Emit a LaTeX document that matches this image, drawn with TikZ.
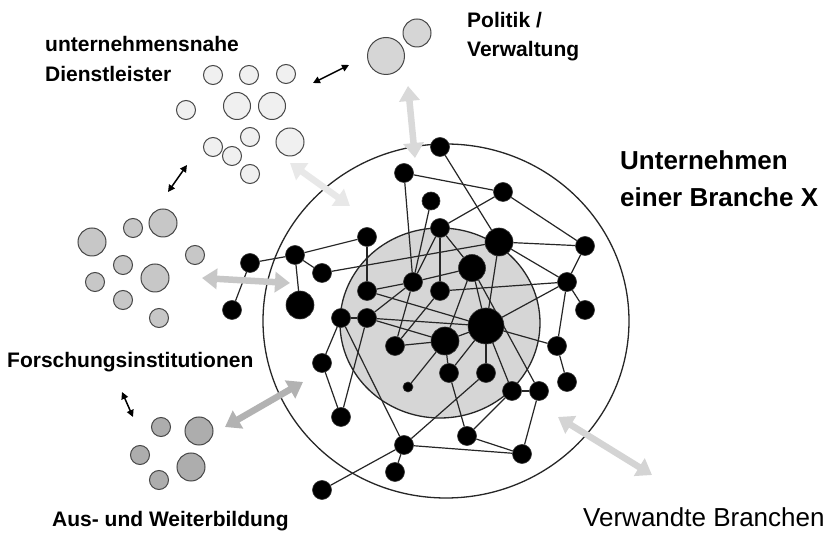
\documentclass[tikz,border=0pt]{standalone}
\usepackage{fontspec}
\setmainfont{Liberation Sans}
\usetikzlibrary{arrows.meta}
\pgfdeclarelayer{back}
\pgfdeclarelayer{links}
\pgfsetlayers{back,links,main}

\begin{document}
\begin{tikzpicture}[x=1pt,y=-1pt,
  hub/.style={circle,fill=black,draw=black!80,line width=0.6pt,inner sep=0pt,minimum size=#1},
  hub/.default=19pt,
  link/.style={draw=black!85,line width=1.2pt},
  member/.style 2 args={circle,draw=black!72,line width=1pt,fill=#1,inner sep=0pt,minimum size=#2},
  flow/.style={line width=6.5pt,draw=#1,
    arrows={Triangle[length=15pt,width=20pt]-Triangle[length=15pt,width=20pt]}},
  tie/.style={line width=1.5pt,draw=black,
    arrows={Triangle[length=7pt,width=7pt]-Triangle[length=7pt,width=7pt]}},
  lbl/.style={font=\fontsize{21}{25}\selectfont\bfseries,inner sep=0pt,anchor=base west},
  biglbl/.style={font=\fontsize{26}{31}\selectfont\bfseries,inner sep=0pt,anchor=base west},
  plainlbl/.style={font=\fontsize{26}{31}\selectfont,inner sep=0pt,anchor=base west}
]
\useasboundingbox (0,0) rectangle (831,534);

% page background, industry boundary and core
\begin{pgfonlayer}{back}
  \fill[white] (0,0) rectangle (831,534);
  \draw[black!85,line width=1.3pt] (446,321) ellipse [x radius=183,y radius=177];
  \draw[black!85,line width=1.3pt,fill=black!16] (440,323) ellipse [x radius=100,y radius=95];
\end{pgfonlayer}

% firms of the industry
\node[hub] (nA) at (440,147) {};
\node[hub] (nB) at (404,173) {};
\node[hub] (nC) at (503,192) {};
\node[hub=18pt] (nD) at (431,201) {};
\node[hub] (nE) at (440,228) {};
\node[hub=28pt] (nF) at (499,242) {};
\node[hub] (nG) at (585,246) {};
\node[hub=27pt] (nH) at (472,268) {};
\node[hub] (nI) at (413,282) {};
\node[hub] (nJ) at (440,291) {};
\node[hub] (nK) at (367,291) {};
\node[hub] (nL) at (367,237) {};
\node[hub] (nM) at (295,255) {};
\node[hub] (nN) at (322,273) {};
\node[hub=28pt] (nO) at (300,305) {};
\node[hub] (nP) at (250,263) {};
\node[hub] (nQ) at (232,310) {};
\node[hub] (nR) at (341,318) {};
\node[hub] (nS) at (367,318) {};
\node[hub=36pt] (nT) at (486,326) {};
\node[hub=28pt] (nU) at (445,341) {};
\node[hub] (nV) at (395,346) {};
\node[hub] (nRa) at (567,282) {};
\node[hub] (nRb) at (585,310) {};
\node[hub] (nRc) at (557,346) {};
\node[hub] (nRd) at (567,382) {};
\node[hub] (nW) at (322,363) {};
\node[hub] (nX) at (341,417) {};
\node[hub] (nY) at (449,373) {};
\node[hub] (nZ) at (486,373) {};
\node[hub=10pt] (nSm) at (408,387) {};
\node[hub] (nAA) at (512,391) {};
\node[hub] (nAB) at (539,391) {};
\node[hub] (nAE) at (467,436) {};
\node[hub] (nAF) at (404,445) {};
\node[hub] (nAG) at (522,454) {};
\node[hub] (nAH) at (395,472) {};
\node[hub] (nAI) at (322,490) {};

% ties between firms
\begin{pgfonlayer}{links}
  \foreach \u/\v in {nA/nF,nB/nC,nB/nI,nD/nI,nE/nC,nE/nJ,nE/nI,nE/nH,nC/nG,nF/nG,
      nF/nRa,nF/nT,nN/nF,nG/nRa,nH/nT,nH/nU,nH/nI,nH/nAB,nRa/nRb,nRa/nRc,nJ/nRa,
      nRa/nT,nRc/nRd,nRc/nT,nAA/nAB,nAB/nAG,nAA/nAE,nY/nAE,nAE/nAG,nAF/nAG,nAF/nZ,
      nAF/nAH,nAF/nAI,nR/nAF,nR/nW,nW/nX,nX/nS,nSm/nU,nV/nU,nK/nI,nK/nL,nL/nM,nM/nP,
      nM/nN,nM/nO,nR/nS,nS/nT,nS/nU,nS/nI,nK/nT,nP/nQ,nT/nU,nT/nY,nT/nZ,nT/nAA,
      nV/nJ,nV/nI,nU/nY}
    \draw[link] (\u) -- (\v);
\end{pgfonlayer}

% business services
\node[member={black!6}{19pt}] (d1) at (213,75) {};
\node[member={black!6}{19pt}] (d2) at (249,75) {};
\node[member={black!6}{19pt}] (d3) at (286,74) {};
\node[member={black!6}{19pt}] (d4) at (186,110) {};
\node[member={black!6}{27pt}] (d5) at (237,106) {};
\node[member={black!6}{27pt}] (d6) at (272,106) {};
\node[member={black!6}{19pt}] (d7) at (250,137) {};
\node[member={black!6}{19pt}] (d8) at (213,147) {};
\node[member={black!6}{19pt}] (d9) at (232,156) {};
\node[member={black!6}{28pt}] (d10) at (290,142) {};
\node[member={black!6}{19pt}] (d11) at (250,174) {};

% politics / administration
\node[member={black!16}{37pt}] (p1) at (386,56) {};
\node[member={black!16}{28pt}] (p2) at (417,33) {};

% research institutions
\node[member={black!22}{28pt}] (f1) at (92,242) {};
\node[member={black!22}{19pt}] (f2) at (133,228) {};
\node[member={black!22}{28pt}] (f3) at (163,223) {};
\node[member={black!22}{19pt}] (f4) at (195,255) {};
\node[member={black!22}{19pt}] (f5) at (123,265) {};
\node[member={black!22}{19pt}] (f6) at (95,282) {};
\node[member={black!22}{28pt}] (f7) at (155,278) {};
\node[member={black!22}{19pt}] (f8) at (123,300) {};
\node[member={black!22}{19pt}] (f9) at (159,318) {};

% education and training
\node[member={black!32}{19pt}] (e1) at (161,427) {};
\node[member={black!32}{28pt}] (e2) at (199,431) {};
\node[member={black!32}{19pt}] (e3) at (140,455) {};
\node[member={black!32}{28pt}] (e4) at (191,467) {};
\node[member={black!32}{19pt}] (e5) at (159,480) {};

% exchange arrows
\coordinate (pvA) at (408,86);   \coordinate (pvB) at (415,158);
\coordinate (dlA) at (290,163);  \coordinate (dlB) at (350,206);
\coordinate (fiA) at (202,278);  \coordinate (fiB) at (290,283);
\coordinate (awA) at (225,427);  \coordinate (awB) at (303,382);
\coordinate (vbA) at (558,417);  \coordinate (vbB) at (652,475);
\draw[flow=black!15] (pvA) -- (pvB);
\draw[flow=black!9] (dlA) -- (dlB);
\draw[flow=black!22] (fiA) -- (fiB);
\draw[flow=black!30] (awA) -- (awB);
\draw[flow=black!17] (vbA) -- (vbB);

\coordinate (k1a) at (313,83);  \coordinate (k1b) at (349,65);
\coordinate (k2a) at (168,192); \coordinate (k2b) at (187,165);
\coordinate (k3a) at (122,392); \coordinate (k3b) at (133,417);
\draw[tie] (k1a) -- (k1b);
\draw[tie] (k2a) -- (k2b);
\draw[tie] (k3a) -- (k3b);

% labels
\node[lbl] (tDl1) at (45,52) {unternehmensnahe};
\node[lbl] (tDl2) at (45,82) {Dienstleister};
\node[lbl] (tPv1) at (467,28) {Politik /};
\node[lbl] (tPv2) at (467,57) {Verwaltung};
\node[biglbl] (tUb1) at (620,170) {Unternehmen};
\node[biglbl] (tUb2) at (620,207) {einer Branche X};
\node[lbl] (tFi) at (7,368) {Forschungsinstitutionen};
\node[lbl] (tAw) at (52,527) {Aus- und Weiterbildung};
\node[plainlbl] (tVb) at (583,527) {Verwandte Branchen};
\end{tikzpicture}
\end{document}
